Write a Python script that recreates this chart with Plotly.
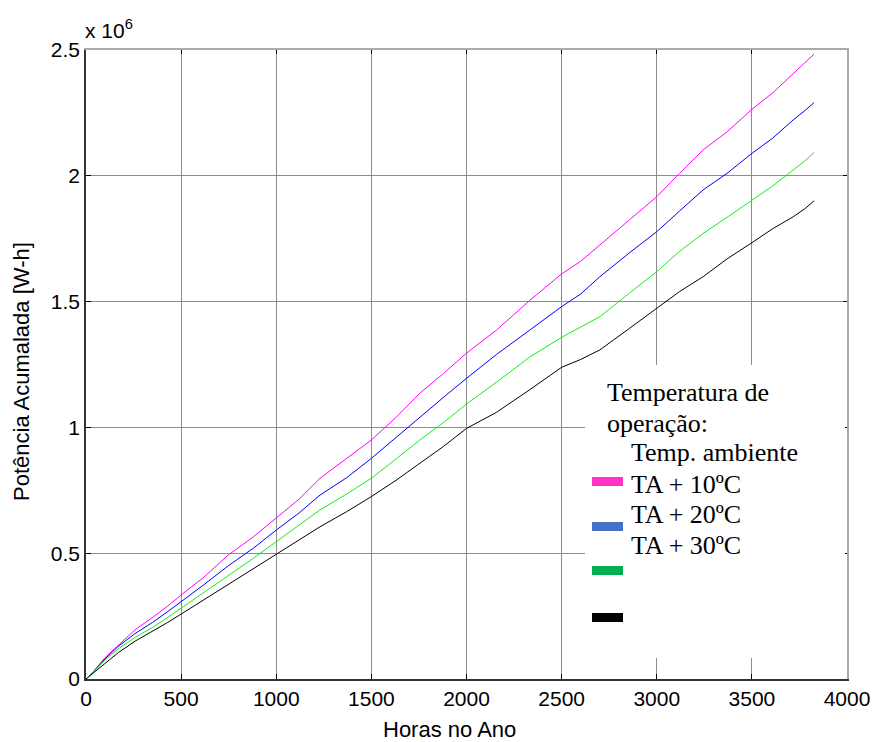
import plotly.graph_objects as go

# ---- data ----
hours = [0, 40, 100, 170, 257, 350, 430, 500, 620, 748, 880, 1000, 1120, 1230,
         1370, 1500, 1630, 1755, 1880, 2000, 2158, 2333, 2500, 2600, 2701, 2850,
         3000, 3120, 3244, 3370, 3500, 3610, 3717, 3780, 3827]

ta_ambiente = [0.0, 0.030, 0.085, 0.135, 0.195, 0.245, 0.290, 0.334, 0.405, 0.493,
               0.565, 0.640, 0.715, 0.798, 0.875, 0.950, 1.040, 1.136, 1.215, 1.295,
               1.387, 1.505, 1.610, 1.660, 1.725, 1.820, 1.917, 2.010, 2.103, 2.175,
               2.264, 2.330, 2.407, 2.450, 2.484]
ta_10 = [0.0, 0.030, 0.080, 0.130, 0.180, 0.225, 0.268, 0.307, 0.375, 0.450,
         0.520, 0.592, 0.660, 0.731, 0.800, 0.877, 0.960, 1.043, 1.120, 1.195,
         1.290, 1.387, 1.480, 1.530, 1.599, 1.690, 1.778, 1.860, 1.944, 2.010,
         2.089, 2.150, 2.222, 2.260, 2.291]
ta_20 = [0.0, 0.028, 0.075, 0.120, 0.165, 0.205, 0.245, 0.281, 0.345, 0.410,
         0.480, 0.546, 0.610, 0.672, 0.735, 0.798, 0.875, 0.950, 1.020, 1.093,
         1.180, 1.280, 1.358, 1.400, 1.440, 1.530, 1.619, 1.700, 1.771, 1.835,
         1.904, 1.960, 2.023, 2.060, 2.093]
ta_30 = [0.0, 0.025, 0.065, 0.105, 0.150, 0.190, 0.225, 0.258, 0.315, 0.375,
         0.440, 0.497, 0.555, 0.605, 0.665, 0.725, 0.790, 0.857, 0.925, 0.996,
         1.060, 1.150, 1.239, 1.270, 1.308, 1.390, 1.473, 1.540, 1.599, 1.670,
         1.734, 1.790, 1.837, 1.870, 1.901]
scale = 1e6

x_ticks = [0, 500, 1000, 1500, 2000, 2500, 3000, 3500, 4000]
y_tickvals = [0, 0.5e6, 1e6, 1.5e6, 2e6, 2.5e6]
y_ticktext = ["0", "0.5", "1", "1.5", "2", "2.5"]

legend_title = ["Temperatura de", "operação:"]
legend_labels = ["Temp. ambiente", "TA + 10ºC", "TA + 20ºC", "TA + 30ºC"]
line_colors = ["#FF00FF", "#0000FF", "#11F011", "#000000"]
swatch_colors = ["#FF33CC", "#4472C4", "#00B050", "#000000"]

series = [ta_ambiente, ta_10, ta_20, ta_30]

# ---- figure ----
L, R, T, B = 86, 25, 50, 63
W, H = 872, 742
pw, ph = W - L - R, H - T - B

def px_x(p):
    return (p - L) / pw

def px_y(p):
    return (H - B - p) / ph

fig = go.Figure()
for vals, col, name in zip(series, line_colors, legend_labels):
    fig.add_trace(go.Scatter(x=hours, y=[v * scale for v in vals], mode="lines",
                             line=dict(color=col, width=1), name=name,
                             showlegend=False))
# invisible trace for the top/right mirrored axes
fig.add_trace(go.Scatter(x=[0], y=[0], xaxis="x2", yaxis="y2", mode="markers",
                         marker=dict(opacity=0, size=1), showlegend=False,
                         hoverinfo="skip"))

axis_font = dict(family="Liberation Sans, Arial, sans-serif", size=21, color="black")
title_font = dict(family="Liberation Sans, Arial, sans-serif", size=22, color="black")
grid_col = "rgb(140,140,140)"

fig.update_layout(
    width=W, height=H,
    margin=dict(l=L, r=R, t=T, b=B),
    paper_bgcolor="white", plot_bgcolor="white",
    font=axis_font,
    xaxis=dict(range=[0, 4000], tickvals=x_ticks, ticks="inside", ticklen=5,
               tickcolor="black", showgrid=True, gridcolor=grid_col, gridwidth=1,
               showline=True, linecolor="#333333", linewidth=1.5, zeroline=False,
               tickfont=axis_font, automargin=False),
    yaxis=dict(range=[0, 2.5e6], tickvals=y_tickvals, ticktext=y_ticktext,
               ticks="inside", ticklen=5, tickcolor="black", showgrid=True,
               gridcolor=grid_col, gridwidth=1, showline=True, linecolor="#333333",
               linewidth=1.5, zeroline=False, tickfont=axis_font, automargin=False),
    xaxis2=dict(range=[0, 4000], tickvals=x_ticks, overlaying="x", side="top",
                anchor="y2", ticks="inside", ticklen=4, tickcolor="black",
                showticklabels=False, showgrid=False, showline=True,
                linecolor="rgb(170,170,170)", linewidth=1.5, zeroline=False),
    yaxis2=dict(range=[0, 2.5e6], tickvals=y_tickvals, overlaying="y", side="right",
                anchor="x2", ticks="inside", ticklen=4, tickcolor="black",
                showticklabels=False, showgrid=False, showline=True,
                linecolor="rgb(170,170,170)", linewidth=1.5, zeroline=False),
)

# legend box (white, covering grid)
shapes = [dict(type="rect", xref="paper", yref="paper",
               x0=px_x(585), x1=px_x(845), y0=px_y(658), y1=px_y(365),
               fillcolor="white", line=dict(width=0), layer="above")]
swatch_y = [(477, 486), (522, 531), (566, 575), (613, 622)]
for (ya, yb), col in zip(swatch_y, swatch_colors):
    shapes.append(dict(type="rect", xref="paper", yref="paper",
                       x0=px_x(592), x1=px_x(623), y0=px_y(yb), y1=px_y(ya),
                       fillcolor=col, line=dict(width=0), layer="above"))
fig.update_layout(shapes=shapes)

serif = dict(family="Liberation Serif, Times New Roman, serif", size=26, color="black")
ann = []
title_y = [393, 423]
for txt, yy in zip(legend_title, title_y):
    ann.append(dict(text=txt, xref="paper", yref="paper", x=px_x(605), y=px_y(yy),
                    xanchor="left", yanchor="middle", showarrow=False, font=serif))
label_y = [452, 484, 514, 545]
for txt, yy in zip(legend_labels, label_y):
    ann.append(dict(text=txt, xref="paper", yref="paper", x=px_x(629), y=px_y(yy),
                    xanchor="left", yanchor="middle", showarrow=False, font=serif))
# exponent label
ann.append(dict(text="x 10<sup>6</sup>", xref="paper", yref="paper", x=px_x(83),
                y=px_y(44), xanchor="left", yanchor="bottom", showarrow=False,
                font=axis_font))
# axis titles
ann.append(dict(text="Potência Acumalada [W-h]", xref="paper", yref="paper",
                x=px_x(21), y=px_y(372), xanchor="center", yanchor="middle",
                textangle=-90, showarrow=False, font=title_font))
ann.append(dict(text="Horas no Ano", xref="paper", yref="paper",
                x=px_x(449), y=px_y(729), xanchor="center", yanchor="middle",
                showarrow=False, font=title_font))
fig.update_layout(annotations=ann)

fig.write_html("out.html",
               config={"displayModeBar": False},
               post_script="document.body.style.margin='0px';"
                           "document.body.style.overflow='hidden';")
